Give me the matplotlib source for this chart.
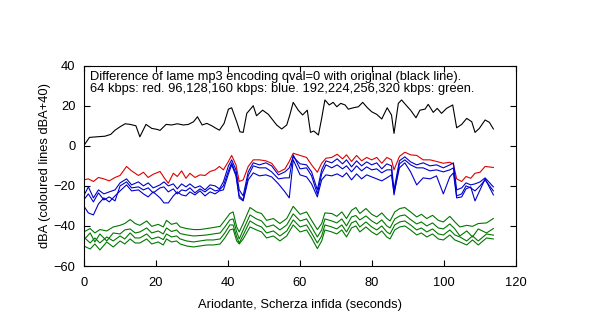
import matplotlib
matplotlib.use("Agg")
import matplotlib.pyplot as plt

plt.rcParams['font.family'] = ['Liberation Sans', 'DejaVu Sans']

# original (black line)
t_orig = [0, 1.6, 3.6, 5.9, 7.5, 8.7, 10.1, 11.5, 12.9, 14.5,
          15.6, 17.3, 18.9, 20.4, 21.2, 22.9, 24.4, 26, 27.7, 29.1,
          30.5, 31.6, 32.9, 34.2, 35.6, 36.5, 37.7, 39.0, 40.2, 41.1,
          42.5, 43.4, 44.3, 45.3, 47.1, 48.0, 49.7, 51.3, 53.6, 55.0,
          56.4, 57.3, 58.2, 59.6, 60.8, 62.1, 63.0, 63.9, 65.2, 66.1,
          67.0, 68.2, 69.3, 70.3, 71.4, 72.6, 73.5, 74.9, 76.3, 77.5,
          78.8, 80, 81.4, 82.8, 84.3, 85.5, 86.2, 87.4, 88.3, 89.5,
          90.8, 92.3, 93.4, 94.8, 95.7, 97.1, 98.2, 99.4, 100.8, 102.5,
          103.6, 105.0, 106.4, 107.8, 108.7, 109.9, 111.5, 112.7, 113.8]
orig = [0, 4.2, 4.5, 4.8, 5.7, 7.8, 9.5, 11, 10.7, 10,
        4.5, 10.7, 8.7, 8.2, 7.7, 10.7, 10.4, 11, 10.4, 10.7,
        12, 14.5, 10.4, 11.2, 10, 9, 7.8, 11.2, 18.3, 19,
        12, 7, 6.7, 16.2, 20, 15, 17.8, 15.7, 10.4, 8.4,
        10.4, 15.7, 21.7, 17.8, 15.4, 17.8, 6.7, 7.4, 5.4, 13.7,
        22.9, 20.4, 21.7, 19.5, 21.2, 20.4, 18.3, 19, 19.5, 21.7,
        19, 17, 15.7, 13.4, 19, 15.4, 6.2, 21.2, 22.9, 20.4,
        17.8, 14, 17.8, 18.3, 20.7, 16.7, 18.7, 16.2, 18.7, 20.4,
        9, 10.7, 13.7, 12, 6.7, 8.7, 12.9, 11.7, 8.4]

# 64 kbps (red) and 96/128/160 kbps (blue)
t_low = [0, 1.3, 2.7, 4.1, 5.6, 7.1, 8.7, 10.1, 11.9, 13.3,
         15.2, 16.6, 17.9, 19.3, 21.2, 22.3, 23.5, 24.9, 26, 27.2,
         28.4, 29.5, 30.9, 32.3, 33.7, 35.1, 36.5, 37.7, 38.8, 40.2,
         41.1, 42.3, 43.2, 44.3, 45.7, 47.1, 48.8, 50.6, 52.2, 54.1,
         55.9, 57.1, 58.2, 60.1, 61.9, 63.3, 64.9, 66.1, 67.3, 68.9,
         70.4, 71.9, 73.0, 74.4, 75.8, 77.2, 78.6, 80, 81.4, 82.8,
         84.2, 85.5, 86.2, 87.7, 89.2, 90.8, 92.5, 94.3, 96.2, 98.0,
         99.9, 101.7, 102.7, 103.6, 105.0, 106.2, 107.5, 108.7, 110.1, 111.5,
         113.8]
kbps64 = [-17, -16.5, -17.8, -15.8, -16.5, -17.5, -15.8, -14.8, -10.3, -12.5,
          -14.8, -13.2, -15.8, -14.2, -12.8, -15.8, -18.7, -13.7, -15.3, -12.5,
          -16.2, -13.7, -15.8, -14.5, -14.8, -12.8, -12, -10.3, -12, -7.8,
          -4.8, -9.5, -17.8, -17, -10.3, -7, -7, -7.5, -8.7, -13.2,
          -11.5, -7.8, -3.7, -4.8, -5.8, -9.5, -13.2, -8.7, -6.2, -5.8,
          -4.2, -6.5, -4.5, -7.8, -4.8, -7.5, -5.8, -7, -5.8, -8.7,
          -5.8, -7, -12, -5.3, -3.2, -4.5, -4.8, -7, -7, -7.8,
          -8.7, -8.2, -9.2, -16.5, -17.8, -15.3, -16.2, -13.7, -13.2, -10.3,
          -10.8]
kbps160 = [-25, -20.5, -26, -22, -24, -23, -22, -18.5, -16.5, -19.5,
           -18, -20, -18.5, -21, -19.5, -18, -20, -19, -21.5, -19,
           -20.5, -19, -21, -20, -22, -19.5, -20, -21.5, -18, -10,
           -7, -12, -22, -25, -13, -8.5, -9.5, -8.5, -10, -14.5,
           -13, -11, -5.5, -9, -9.5, -13, -22, -12, -7.5, -8.5,
           -6.5, -9, -7, -10.5, -7.5, -10, -8, -9.5, -8.5, -11.5,
           -9, -10, -22, -7.5, -5.5, -8, -9.5, -8.5, -10, -9.5,
           -11, -9.5, -8.5, -22, -21, -18.5, -19.5, -19, -18, -16,
           -20.5]
kbps128 = [-27, -24, -28, -23.5, -27, -25.5, -27.5, -20, -18, -21,
           -20.5, -22, -21, -23.5, -21, -20.5, -23, -21.5, -24, -22,
           -22.5, -21, -23.5, -21.5, -23, -21, -22.5, -22, -20, -12.5,
           -8.5, -14, -25, -27, -15, -10, -11, -11, -13, -16.5,
           -16, -16, -4.5, -11.5, -11, -15, -24, -14, -9.5, -11,
           -9.5, -11.5, -10, -13, -10, -12.5, -10.5, -12, -11.5, -13.5,
           -12, -12, -24.5, -9, -7, -9.5, -11, -11, -12.5, -12,
           -13, -12, -11, -25, -24, -20, -21, -22.5, -20, -17,
           -22.5]
kbps96 = [-30, -33.5, -34.5, -29, -26, -28, -25, -22.5, -19.5, -22.5,
          -22, -24, -25.5, -23, -26, -28.5, -28.5, -25, -23, -24.5,
          -25, -23, -24.5, -22.5, -25, -23, -24, -22.5, -22, -14,
          -9.5, -15, -26, -27.5, -17, -13.5, -15, -14.5, -15.5, -19,
          -23, -26, -7, -14.5, -15.5, -19, -25.5, -17, -14.5, -15,
          -14, -15.5, -13.5, -17, -14, -16.5, -14.5, -15.5, -16.5, -17.5,
          -16, -14.5, -23.5, -11, -8.5, -13, -19.5, -16, -16.5, -15,
          -24, -15.5, -13.5, -26, -25.5, -21.5, -20.5, -27.5, -22, -16.5,
          -24.5]

# 192/224/256/320 kbps (green)
t_high = [0, 1.8, 3.1, 4.5, 6.4, 8.2, 10.1, 11.4, 12.9, 14.3,
          15.6, 17.5, 18.9, 20.7, 22.1, 23.0, 24.4, 25.8, 26.8, 28.6,
          30.5, 32.3, 34.2, 36, 37.9, 39.2, 40.6, 41.5, 42.5, 43.2,
          44.3, 46.2, 48, 49.4, 50.8, 52.7, 54.5, 56.4, 58.2, 60.1,
          61.9, 63.3, 64.9, 66.1, 67.0, 68.9, 70.3, 71.7, 73.0, 74.4,
          75.6, 76.7, 78.4, 80, 81.4, 82.8, 84.2, 85.1, 86.4, 87.8,
          89.2, 90.8, 92.5, 93.8, 95.3, 96.9, 98.5, 99.9, 101.7, 103.1,
          104.5, 106.4, 108.0, 109.6, 111.9, 113.8]
kbps192 = [-43, -41.3, -43.5, -41.8, -42.5, -40.5, -39.7, -38.8, -36.8, -38.8,
           -39.7, -37.5, -40.2, -39.2, -40.5, -37.2, -39.2, -38.5, -40.5, -41.3,
           -41.8, -41.8, -41.3, -40.8, -40.2, -37.2, -33.8, -33, -40.5, -43,
           -38.8, -30.8, -33, -33.8, -37.2, -36.3, -38.8, -36.3, -30.2, -34.2,
           -33, -37.2, -41.8, -38.8, -33.5, -33.8, -35.2, -33, -36.3, -32.2,
           -30.8, -33.8, -31.3, -34.2, -35.5, -33.5, -36.3, -37.5, -33, -31.3,
           -30.8, -33, -35.5, -34.2, -36.3, -34.7, -37.2, -38, -35.2, -38,
           -40.5, -39.7, -40.2, -38.8, -38.5, -36.3]
kbps224 = [-47, -43.5, -48, -44, -47.5, -43.5, -44, -42, -41.5, -43.5,
           -43, -41, -43.5, -42.5, -44, -41, -42.8, -42, -43.8, -44.5,
           -45, -44.8, -44.5, -44, -43.5, -40.5, -37, -36.5, -43, -46.5,
           -42, -34.5, -36.5, -37.5, -40.5, -39.5, -42, -39.5, -34, -37.5,
           -36.5, -40.5, -45.5, -42, -36.5, -37.5, -38.5, -36.5, -40, -35.5,
           -34.8, -37, -35, -37.5, -39, -37, -40, -41, -36.5, -35,
           -34.5, -36.8, -39, -38, -40, -38.5, -41, -41.5, -39, -41.5,
           -45, -42.5, -45.5, -41.5, -43.5, -41.3]
kbps256 = [-45.5, -48.5, -46, -48.5, -45.5, -47.5, -45, -46.5, -43.5, -46,
           -46, -44, -46.5, -45.5, -46.8, -44, -45.5, -45, -46.5, -47.5,
           -48, -47.5, -47, -47, -46.5, -43.5, -39.5, -39.5, -45.5, -48.5,
           -44.5, -37.5, -39.5, -40.5, -43.5, -42.5, -45, -42.5, -37, -40.5,
           -39.5, -43.5, -48.5, -45, -39.5, -40.5, -41.5, -39.5, -43, -38.5,
           -37.5, -40.5, -38, -40.5, -42, -40, -43, -44, -39.5, -38,
           -37.5, -39.5, -42, -41, -43, -41.5, -44, -44.5, -42, -44.5,
           -45.5, -47.5, -45, -47.5, -44, -44.6]
kbps320 = [-50, -51.5, -49, -52, -48, -50.5, -47.5, -49, -46.5, -48.5,
           -48.5, -46.5, -49, -48, -49.5, -46.5, -48, -47.5, -49, -50,
           -50.5, -50, -49.5, -49.5, -49, -46, -42, -41.5, -47.5, -49,
           -46.5, -40.5, -42, -43, -46, -45, -47.5, -45, -39.5, -43,
           -42, -46, -51.3, -47.5, -42, -43, -44, -42, -45.5, -41,
           -40, -43, -40.5, -43, -44.5, -42.5, -45.5, -46.5, -42, -40.5,
           -40, -42, -44.5, -43.5, -45.5, -44, -46.5, -47, -44.5, -47,
           -48, -49.5, -47, -49.5, -46, -46.5]

fig = plt.figure(figsize=(6, 3.33), dpi=100)
ax = fig.add_axes([0.1395, 0.2012, 0.72, 0.6015])

lw = 0.8
ax.plot(t_orig, orig, color='black', lw=lw)
ax.plot(t_low, kbps64, color='#dd0000', lw=lw)
for s in (kbps96, kbps128, kbps160):
    ax.plot(t_low, s, color='#0000cc', lw=lw)
for s in (kbps192, kbps224, kbps256, kbps320):
    ax.plot(t_high, s, color='#007700', lw=lw)

ax.set_xlim(0, 120)
ax.set_ylim(-60, 40)
ax.set_xticks(range(0, 121, 20))
ax.set_yticks(range(-60, 41, 20))
ax.tick_params(direction='in', top=True, right=True, length=4, width=0.8,
               labelsize=9.3)
ax.tick_params(axis='x', pad=8)
ax.tick_params(axis='y', pad=6)
for sp in ax.spines.values():
    sp.set_linewidth(0.8)

ax.set_xlabel("Ariodante, Scherza infida (seconds)", fontsize=9.3, labelpad=7)
ax.set_ylabel("dBA (coloured lines dBA+40)", fontsize=9.3, labelpad=2)
ax.text(0.015, 0.975,
        "Difference of lame mp3 encoding qval=0 with original (black line).\n"
        "64 kbps: red. 96,128,160 kbps: blue. 192,224,256,320 kbps: green.",
        transform=ax.transAxes, ha='left', va='top', fontsize=9.3, linespacing=1.05)

fig.savefig("out.png", dpi=100)
